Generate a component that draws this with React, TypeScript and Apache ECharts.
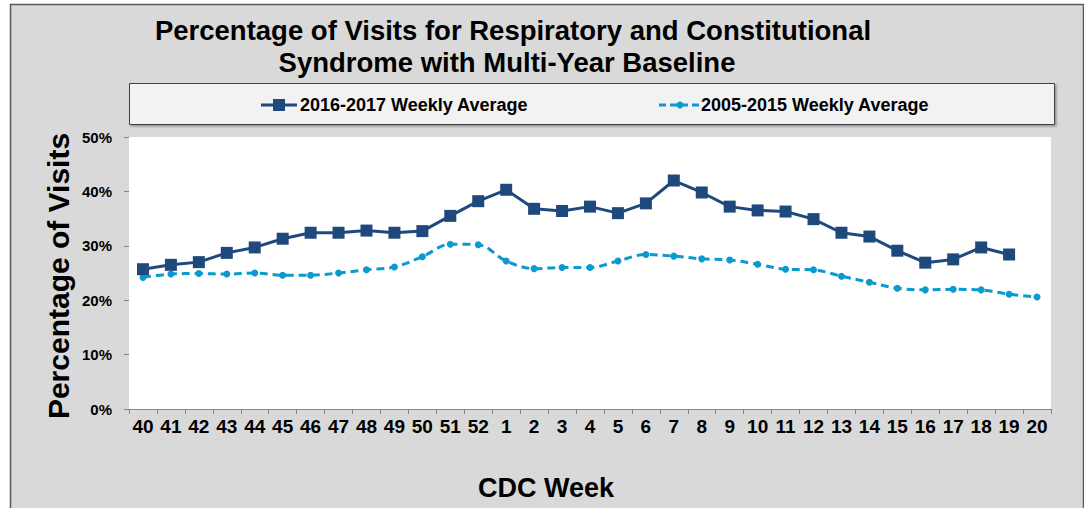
import React, { useEffect, useRef } from "react";
import * as echarts from "echarts";

const weeks: string[] = [
  "40", "41", "42", "43", "44", "45", "46", "47", "48", "49", "50", "51", "52",
  "1", "2", "3", "4", "5", "6", "7", "8", "9", "10", "11", "12", "13", "14",
  "15", "16", "17", "18", "19", "20",
];

const season2016: number[] = [
  25.7, 26.5, 27.0, 28.7, 29.7, 31.3, 32.4, 32.4, 32.8, 32.4, 32.7, 35.5, 38.2,
  40.3, 36.8, 36.4, 37.2, 36.0, 37.8, 42.0, 39.8, 37.2, 36.5, 36.3, 34.9, 32.4,
  31.7, 29.1, 26.9, 27.5, 29.7, 28.4,
];

const baseline2005: number[] = [
  24.2, 24.8, 24.9, 24.8, 25.0, 24.6, 24.6, 25.0, 25.6, 26.1, 28.0, 30.3, 30.2,
  27.2, 25.8, 26.0, 26.0, 27.2, 28.4, 28.1, 27.6, 27.4, 26.6, 25.7, 25.6, 24.4,
  23.3, 22.2, 21.9, 22.0, 21.9, 21.1, 20.6,
];

const yTicks = { min: 0, max: 50, interval: 10 };

const seriesNames = ["2016-2017 Weekly Average", "2005-2015 Weekly Average"];
const titleLines = [
  "Percentage of Visits for Respiratory and Constitutional",
  "Syndrome with Multi-Year Baseline",
];
const yTitle = "Percentage of Visits";
const xTitle = "CDC Week";

const DARK = "#1f497d";
const LIGHT = "#0b9ad0";
const FONT = "'Liberation Sans', Arial, sans-serif";

export default function App() {
  const ref = useRef<HTMLDivElement>(null);

  useEffect(() => {
    if (!ref.current) return;
    const chart = echarts.init(ref.current, undefined, { renderer: "svg" });
    const legendY = 105;
    chart.setOption({
      animation: false,
      backgroundColor: "#ffffff",
      textStyle: { fontFamily: FONT },
      grid: {
        left: 129,
        right: 33,
        top: 137,
        bottom: 99,
        show: true,
        backgroundColor: "#ffffff",
        borderWidth: 0,
        z: 1,
      },
      xAxis: {
        type: "category",
        data: weeks,
        boundaryGap: true,
        axisLine: { show: true, lineStyle: { color: "#868686", width: 1 } },
        axisTick: {
          show: true,
          interval: 0,
          length: 5,
          lineStyle: { color: "#868686" },
        },
        axisLabel: {
          interval: 0,
          margin: 8,
          color: "#000000",
          fontFamily: FONT,
          fontWeight: "bold",
          fontSize: 19,
        },
        splitLine: { show: false },
      },
      yAxis: {
        type: "value",
        min: yTicks.min,
        max: yTicks.max,
        interval: yTicks.interval,
        axisLine: { show: true, lineStyle: { color: "#868686", width: 1 } },
        axisTick: { show: true, length: 5, lineStyle: { color: "#868686" } },
        axisLabel: {
          formatter: "{value}%",
          margin: 17,
          color: "#000000",
          fontFamily: FONT,
          fontWeight: "bold",
          fontSize: 15,
        },
        splitLine: { show: false },
      },
      series: [
        {
          name: seriesNames[0],
          type: "line",
          data: season2016,
          symbol: "rect",
          symbolSize: 12,
          itemStyle: { color: DARK },
          lineStyle: { color: DARK, width: 3 },
          z: 4,
        },
        {
          name: seriesNames[1],
          type: "line",
          data: baseline2005,
          symbol: "circle",
          symbolSize: 7,
          smooth: 0.35,
          itemStyle: { color: LIGHT },
          lineStyle: { color: LIGHT, width: 3, type: [8, 5] },
          z: 3,
        },
      ],
      graphic: [
        {
          type: "rect",
          z: -10,
          silent: true,
          shape: { x: 10.5, y: 4.5, width: 1073, height: 510 },
          style: { fill: "#d9d9d9", stroke: "#595959", lineWidth: 1.5 },
        },
        {
          type: "text",
          z: 10,
          x: 513,
          y: 30,
          style: {
            text: titleLines[0],
            fill: "#000000",
            font: `bold 27.5px ${FONT}`,
            textAlign: "center",
            textVerticalAlign: "middle",
          },
        },
        {
          type: "text",
          z: 10,
          x: 507,
          y: 62,
          style: {
            text: titleLines[1],
            fill: "#000000",
            font: `bold 27.5px ${FONT}`,
            textAlign: "center",
            textVerticalAlign: "middle",
          },
        },
        {
          type: "rect",
          z: 5,
          shape: { x: 129.5, y: 83.5, width: 925, height: 41 },
          style: {
            fill: "#f2f2f2",
            stroke: "#404040",
            lineWidth: 1,
            shadowBlur: 2,
            shadowOffsetX: 1.5,
            shadowOffsetY: 1.5,
            shadowColor: "rgba(0,0,0,0.35)",
          },
        },
        {
          type: "line",
          z: 6,
          shape: { x1: 261, y1: legendY, x2: 297, y2: legendY },
          style: { stroke: DARK, lineWidth: 3 },
        },
        {
          type: "rect",
          z: 7,
          shape: { x: 273, y: legendY - 6, width: 12, height: 12 },
          style: { fill: DARK },
        },
        {
          type: "text",
          z: 7,
          x: 300,
          y: legendY,
          style: {
            text: seriesNames[0],
            fill: "#000000",
            font: `bold 18px ${FONT}`,
            textAlign: "left",
            textVerticalAlign: "middle",
          },
        },
        {
          type: "line",
          z: 6,
          shape: { x1: 659, y1: legendY, x2: 699, y2: legendY },
          style: { stroke: LIGHT, lineWidth: 3, lineDash: [7, 4] },
        },
        {
          type: "circle",
          z: 7,
          shape: { cx: 680, cy: legendY, r: 3.5 },
          style: { fill: LIGHT },
        },
        {
          type: "text",
          z: 7,
          x: 701,
          y: legendY,
          style: {
            text: seriesNames[1],
            fill: "#000000",
            font: `bold 18px ${FONT}`,
            textAlign: "left",
            textVerticalAlign: "middle",
          },
        },
        {
          type: "text",
          z: 10,
          x: 58,
          y: 276,
          rotation: Math.PI / 2,
          style: {
            text: yTitle,
            fill: "#000000",
            font: `bold 30px ${FONT}`,
            textAlign: "center",
            textVerticalAlign: "middle",
          },
        },
        {
          type: "text",
          z: 10,
          x: 546,
          y: 488,
          style: {
            text: xTitle,
            fill: "#000000",
            font: `bold 27px ${FONT}`,
            textAlign: "center",
            textVerticalAlign: "middle",
          },
        },
      ],
    });
    return () => chart.dispose();
  }, []);

  return (
    <div
      ref={ref}
      style={{ position: "fixed", left: 0, top: 0, width: 1084, height: 508 }}
    />
  );
}
